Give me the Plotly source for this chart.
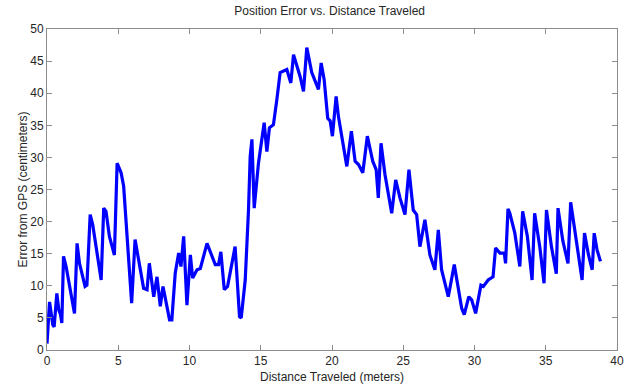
import plotly.graph_objects as go

distance_m = [
    0.0, 0.18, 0.41, 0.5, 0.69, 0.83, 0.94, 1.04, 1.16, 1.34, 1.93, 2.11, 2.28, 2.44, 2.67, 2.8,
    3.03, 3.21, 3.8, 3.98, 4.14, 4.38, 4.73, 4.92, 5.2, 5.38, 5.94, 6.18, 6.36, 6.78, 7.02, 7.18,
    7.49, 7.72, 7.95, 8.14, 8.6, 8.76, 9.0, 9.24, 9.4, 9.59, 9.82, 10.06, 10.22, 10.53, 10.76,
    11.23, 11.81, 12.04, 12.2, 12.44, 12.67, 13.2, 13.51, 13.63, 13.91, 14.14, 14.26, 14.38,
    14.54, 14.84, 15.24, 15.43, 15.61, 15.89, 16.13, 16.36, 16.83, 17.11, 17.3, 17.76, 18.0,
    18.23, 18.58, 19.05, 19.24, 19.45, 19.7, 19.87, 20.03, 20.29, 20.45, 21.04, 21.36, 21.62,
    21.86, 22.16, 22.48, 22.86, 23.1, 23.25, 23.44, 23.72, 24.19, 24.47, 24.77, 25.12, 25.4,
    25.7, 25.94, 26.17, 26.52, 26.87, 27.22, 27.46, 27.69, 28.16, 28.58, 28.86, 29.1, 29.28,
    29.6, 29.8, 30.08, 30.45, 30.62, 30.96, 31.3, 31.48, 31.78, 32.09, 32.18, 32.35, 32.48,
    32.83, 33.18, 33.38, 33.71, 34.04, 34.22, 34.58, 34.88, 35.05, 35.4, 35.74, 35.86, 36.2,
    36.56, 36.75, 37.1, 37.55, 37.72, 38.0, 38.26, 38.4, 38.6, 38.84,
]
error_cm = [
    1.0, 7.5, 3.9, 3.6, 8.8, 6.2, 5.6, 4.2, 14.6, 13.0, 5.7, 16.6, 13.5, 12.0, 9.9, 10.1,
    21.1, 19.5, 10.9, 22.1, 21.6, 17.7, 14.8, 29.1, 27.6, 25.5, 7.3, 17.2, 15.1, 9.6, 9.4, 13.5,
    8.3, 11.4, 6.8, 9.9, 4.7, 4.7, 12.0, 15.1, 13.0, 17.7, 7.0, 14.8, 11.2, 12.5, 12.7,
    16.6, 13.3, 13.3, 15.3, 9.4, 9.9, 16.1, 5.2, 5.0, 10.9, 21.8, 30.2, 32.8,
    22.1, 29.1, 35.4, 30.9, 34.6, 35.1, 39.0, 43.2, 43.7, 41.6, 46.0, 42.6, 40.3,
    47.1, 43.2, 40.6, 44.7, 42.1, 36.1, 35.7, 33.3, 39.5, 36.4, 28.6, 34.1, 29.4,
    28.9, 27.6, 33.3, 29.4, 28.1, 23.7, 32.2, 27.3, 21.3, 26.5, 23.7, 21.1, 28.1,
    21.8, 21.1, 16.1, 20.3, 14.8, 12.5, 18.7, 12.5, 8.3, 13.3, 9.9, 6.5, 5.5,
    8.3, 7.8, 5.7, 10.1, 9.9, 10.9, 11.4, 15.9, 15.1, 15.1, 13.5, 22.0, 21.3,
    18.2, 13.0, 21.6, 17.7, 10.9, 21.3, 16.1, 10.4, 21.8, 16.1, 11.9, 22.1, 17.0,
    13.5, 23.0, 17.5, 10.9, 18.2, 14.8, 12.5, 18.2, 15.6, 13.8,
]

x_ticks = [0, 5, 10, 15, 20, 25, 30, 35, 40]
y_ticks = [0, 5, 10, 15, 20, 25, 30, 35, 40, 45, 50]

title_text = "Position Error vs. Distance Traveled"
x_label = "Distance Traveled (meters)"
y_label = "Error from GPS (centimeters)"

font_family = "Liberation Sans, Arial, sans-serif"
text_color = "#262626"
label_font = dict(family=font_family, size=12, color=text_color)

fig = go.Figure(
    go.Scatter(
        x=distance_m,
        y=error_cm,
        mode="lines",
        line=dict(color="#0000ff", width=3.2),
        showlegend=False,
    )
)

axis_common = dict(
    showgrid=False,
    zeroline=False,
    showline=True,
    linecolor="#8c8c8c",
    linewidth=1,
    mirror="ticks",
    ticks="inside",
    ticklen=5,
    tickcolor="#8c8c8c",
    automargin=False,
    tickfont=label_font,
)

fig.update_xaxes(range=[0, 40], tickvals=x_ticks, ticktext=[str(v) for v in x_ticks], **axis_common)
fig.update_yaxes(range=[0, 50], tickvals=y_ticks, ticktext=[str(v) for v in y_ticks], **axis_common)

fig.add_annotation(
    text=x_label, xref="paper", yref="paper", x=0.5, y=0,
    xanchor="center", yanchor="middle", yshift=-27, showarrow=False, font=label_font,
)
fig.add_annotation(
    text=y_label, xref="paper", yref="paper", x=0, y=0.5, textangle=-90,
    xanchor="center", yanchor="middle", xshift=-25, showarrow=False, font=label_font,
)

fig.update_layout(
    width=634,
    height=387,
    margin=dict(l=47, r=17, t=29, b=37),
    paper_bgcolor="white",
    plot_bgcolor="white",
    title=dict(
        text=title_text,
        font=label_font,
        x=0.52,
        xanchor="center",
        y=0.972,
        yanchor="middle",
    ),
)

fig.write_html("out.html")
